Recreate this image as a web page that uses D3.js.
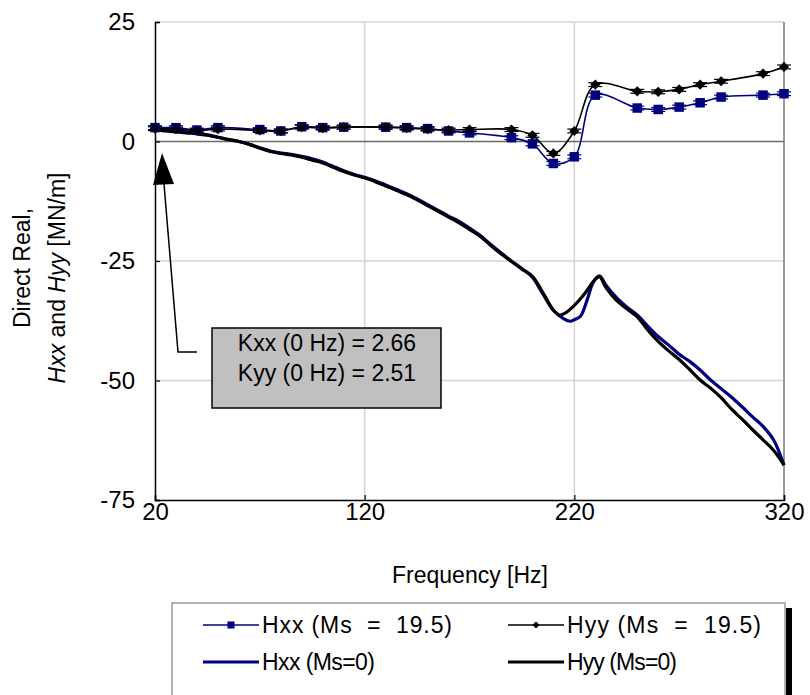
<!DOCTYPE html>
<html>
<head>
<meta charset="utf-8">
<script src="https://cdn.jsdelivr.net/npm/d3@7"></script>
<style>
  html, body { margin: 0; padding: 0; background: #fff; }
  svg { display: block; font-family: "Liberation Sans", Arial, sans-serif; }
</style>
</head>
<body>
<svg id="chart" width="810" height="695"></svg>
<script>
// Measured stiffness with seal mass (Ms = 19.5), sampled frequencies [Hz]
const markerFreq = [20, 30, 40, 50, 70, 80, 90, 100, 110, 130, 140, 150, 160, 170,
                    190, 200, 210, 220, 230, 250, 260, 270, 280, 290, 310, 320];
const hxxMs195 = [2.9, 2.9, 2.4, 2.9, 2.5, 2.2, 3.1, 2.9, 3.0, 3.0, 2.9, 2.7, 2.2, 1.8,
                  0.8, -0.5, -4.6, -3.2, 9.7, 7.0, 6.7, 7.2, 8.1, 9.3, 9.7, 10.0];
const hyyMs195 = [2.7, 2.6, 2.3, 2.6, 2.3, 2.2, 3.0, 2.8, 3.0, 3.0, 2.8, 2.6, 2.4, 2.5,
                  2.5, 1.3, -2.5, 2.2, 11.9, 10.5, 10.4, 10.9, 11.9, 12.6, 14.2, 15.6];
// Uncertainty (+/-) on the measured points
const hxxErr = [0.4, 0.4, 0.4, 0.4, 0.4, 0.4, 0.4, 0.4, 0.4, 0.4, 0.4, 0.4, 0.4, 0.4,
                0.4, 0.4, 0.4, 0.4, 0.4, 0.4, 0.4, 0.4, 0.4, 0.4, 0.4, 0.4];
const hyyErr = [0.4, 0.4, 0.4, 0.4, 0.4, 0.4, 0.4, 0.4, 0.4, 0.4, 0.4, 0.4, 0.4, 0.4,
                0.4, 0.4, 0.4, 0.4, 0.4, 0.4, 0.4, 0.4, 0.4, 0.4, 0.4, 0.4];

// Stiffness without seal mass (Ms = 0)
const hxxMs0Freq = [20, 25, 30, 35, 40, 45, 50, 55, 60, 65, 70, 75, 80, 85, 90, 95, 100, 105,
                    110, 115, 120, 125, 130, 135, 140, 145, 150, 155, 160, 165, 170, 175, 180,
                    185, 190, 195, 200, 205, 210, 215, 218, 220, 223, 226, 229, 232, 235, 240,
                    245, 250, 255, 260, 265, 270, 275, 280, 285, 290, 295, 300, 305, 310, 315, 320];
const hxxMs0 = [2.7, 2.4, 2.2, 2.0, 1.7, 1.4, 0.9, 0.4, 0.0, -0.6, -1.3, -2.0, -2.4, -2.7, -3.1,
                -3.6, -4.3, -5.2, -6.1, -6.9, -7.5, -8.2, -9.1, -10.0, -10.9, -12.0, -13.2,
                -14.4, -15.6, -16.7, -18.1, -19.6, -21.5, -23.3, -25.0, -26.6, -28.4, -31.9,
                -35.3, -37.1, -37.6, -37.3, -36.5, -33.3, -29.5, -28.1, -30.0, -32.6, -34.6,
                -36.3, -38.6, -40.8, -42.6, -44.5, -46.0, -47.8, -49.9, -51.7, -53.5, -55.5,
                -57.6, -59.6, -62.4, -67.7];
const hyyMs0Freq = [20, 25, 30, 35, 40, 45, 50, 55, 60, 65, 70, 75, 80, 85, 90, 95, 100, 105,
                    110, 115, 120, 125, 130, 135, 140, 145, 150, 155, 160, 165, 170, 175, 180,
                    185, 190, 195, 200, 205, 210, 213, 216, 220, 225, 230, 232, 235, 240, 245,
                    250, 255, 260, 265, 270, 275, 280, 285, 290, 295, 300, 305, 310, 315, 320];
const hyyMs0 = [2.6, 2.2, 2.0, 1.8, 1.6, 1.3, 0.9, 0.4, 0.0, -0.6, -1.4, -2.1, -2.5, -2.8, -3.3,
                -3.9, -4.5, -5.4, -6.3, -7.0, -7.6, -8.4, -9.3, -10.2, -11.1, -12.2, -13.4,
                -14.6, -15.8, -17.0, -18.4, -19.8, -21.7, -23.5, -25.1, -26.7, -28.2, -31.6,
                -35.3, -36.3, -35.8, -34.3, -31.8, -28.8, -28.3, -30.5, -33.2, -35.0, -36.7,
                -39.4, -41.8, -43.8, -45.6, -47.7, -49.9, -51.6, -53.6, -56.0, -58.1, -60.3,
                -62.4, -64.6, -67.7];

const xTicks = [20, 120, 220, 320];
const yTicks = [25, 0, -25, -50, -75];

const annotationLines = ["Kxx (0 Hz) = 2.66", "Kyy (0 Hz) = 2.51"];
const legendLabels = ["Hxx (Ms  =  19.5)", "Hyy (Ms  =  19.5)", "Hxx (Ms=0)", "Hyy (Ms=0)"];

const NAVY = "#000080";
const FONT = "'Liberation Sans', Arial, sans-serif";
const svg = d3.select("#chart");

const plot = { left: 155, right: 784, top: 22, bottom: 500 };
const x = d3.scaleLinear().domain([20, 320]).range([plot.left, plot.right]);
const y = d3.scaleLinear().domain([-75, 25]).range([plot.bottom, plot.top]);

// Grid lines
const grid = svg.append("g");
grid.selectAll("line.vg").data(xTicks.slice(1, -1)).join("line")
  .attr("x1", d => x(d)).attr("x2", d => x(d))
  .attr("y1", plot.top).attr("y2", plot.bottom)
  .attr("stroke", "#d4d4d4").attr("stroke-width", 1.5);
grid.selectAll("line.hg").data([-25, -50]).join("line")
  .attr("x1", plot.left).attr("x2", plot.right)
  .attr("y1", d => y(d)).attr("y2", d => y(d))
  .attr("stroke", "#d4d4d4").attr("stroke-width", 1.5);
// Top and right frame
grid.append("line").attr("x1", plot.left).attr("x2", plot.right)
  .attr("y1", plot.top).attr("y2", plot.top).attr("stroke", "#d4d4d4").attr("stroke-width", 1.5);
grid.append("line").attr("x1", plot.right).attr("x2", plot.right)
  .attr("y1", plot.top).attr("y2", plot.bottom).attr("stroke", "#7a7a7a").attr("stroke-width", 1.5);
// Zero line
grid.append("line").attr("x1", plot.left).attr("x2", plot.right)
  .attr("y1", y(0)).attr("y2", y(0)).attr("stroke", "#6a6a6a").attr("stroke-width", 1.5);

// Axes (plain hyphen for negative labels)
const plain = d => String(d);
const xAxis = d3.axisBottom(x).tickValues(xTicks).tickFormat(plain).tickSize(-5).tickPadding(3);
const yAxis = d3.axisLeft(y).tickValues(yTicks).tickFormat(plain).tickSize(-5).tickPadding(20);
const gx = svg.append("g").attr("transform", `translate(0,${plot.bottom})`).call(xAxis);
const gy = svg.append("g").attr("transform", `translate(${plot.left},0)`).call(yAxis);
[gx, gy].forEach(g => {
  g.select(".domain").attr("stroke", "#000").attr("stroke-width", 1.5);
  g.selectAll(".tick line").attr("stroke", "#000").attr("stroke-width", 1.2);
  g.selectAll(".tick text").attr("font-size", 24).attr("fill", "#000").attr("font-family", FONT);
});

// Axis titles
svg.append("text").attr("x", 470).attr("y", 583)
  .attr("text-anchor", "middle").attr("font-size", 23).text("Frequency [Hz]");
const yTitle = svg.append("text").attr("transform", "rotate(-90)")
  .attr("text-anchor", "middle").attr("font-size", 23);
yTitle.append("tspan").attr("x", -268).attr("y", 30).text("Direct Real,");
const t2 = yTitle.append("tspan").attr("x", -278).attr("y", 65);
t2.append("tspan").attr("font-style", "italic").text("Hxx");
t2.append("tspan").text(" and ");
t2.append("tspan").attr("font-style", "italic").text("Hyy");
t2.append("tspan").text(" [MN/m]");

// Curves
const smooth = d3.line().x(d => x(d[0])).y(d => y(d[1])).curve(d3.curveCatmullRom.alpha(0.5));
const zip = (a, b) => a.map((v, i) => [v, b[i]]);

const g = svg.append("g");
g.append("path").datum(zip(hxxMs0Freq, hxxMs0)).attr("d", smooth)
  .attr("fill", "none").attr("stroke", NAVY).attr("stroke-width", 3.2);
g.append("path").datum(zip(hyyMs0Freq, hyyMs0)).attr("d", smooth)
  .attr("fill", "none").attr("stroke", "#000").attr("stroke-width", 3.2);

g.append("path").datum(zip(markerFreq, hxxMs195)).attr("d", smooth)
  .attr("fill", "none").attr("stroke", NAVY).attr("stroke-width", 1.6);
g.append("path").datum(zip(markerFreq, hyyMs195)).attr("d", smooth)
  .attr("fill", "none").attr("stroke", "#000").attr("stroke-width", 1.6);

// Error bars on measured points
function errorBars(vals, errs, color) {
  const eb = g.append("g").attr("stroke", color).attr("stroke-width", 1.2);
  markerFreq.forEach((f, i) => {
    const cx = x(f), y0 = y(vals[i] - errs[i]), y1 = y(vals[i] + errs[i]);
    eb.append("line").attr("x1", cx).attr("x2", cx).attr("y1", y0).attr("y2", y1);
    eb.append("line").attr("x1", cx - 7).attr("x2", cx + 7).attr("y1", y0).attr("y2", y0);
    eb.append("line").attr("x1", cx - 7).attr("x2", cx + 7).attr("y1", y1).attr("y2", y1);
  });
}
errorBars(hxxMs195, hxxErr, NAVY);
errorBars(hyyMs195, hyyErr, "#000");

const square = d3.symbol().type(d3.symbolSquare).size(90);
const diamond = d3.symbol().type(d3.symbolSquare).size(52);
g.selectAll("path.sq").data(zip(markerFreq, hxxMs195)).join("path")
  .attr("class", "sq").attr("d", square)
  .attr("transform", d => `translate(${x(d[0])},${y(d[1])})`).attr("fill", NAVY);
g.selectAll("path.dm").data(zip(markerFreq, hyyMs195)).join("path")
  .attr("class", "dm").attr("d", diamond)
  .attr("transform", d => `translate(${x(d[0])},${y(d[1])}) rotate(45)`).attr("fill", "#000");

// Annotation box with leader arrow
const ann = svg.append("g");
ann.append("polyline").attr("points", "197,352 178,352 164,184")
  .attr("fill", "none").attr("stroke", "#000").attr("stroke-width", 1.5);
ann.append("path").attr("d", "M162,153 L174,184 L153,185 Z").attr("fill", "#000");
ann.append("rect").attr("x", 212).attr("y", 328).attr("width", 229).attr("height", 80)
  .attr("fill", "#c0c0c0").attr("stroke", "#000").attr("stroke-width", 1.5);
ann.selectAll("text").data(annotationLines).join("text")
  .attr("x", 327).attr("y", (d, i) => 351 + i * 30)
  .attr("text-anchor", "middle").attr("font-size", 23).text(d => d);

// Legend
const lg = svg.append("g");
lg.append("rect").attr("x", 786).attr("y", 608).attr("width", 6).attr("height", 90).attr("fill", "#000");
lg.append("rect").attr("x", 172).attr("y", 603).attr("width", 613).attr("height", 95)
  .attr("fill", "#fff").attr("stroke", "#808080").attr("stroke-width", 1.2);
const entries = [
  { lx: 203, ly: 625, color: NAVY, w: 1.6, sym: "sq", len: 190 },
  { lx: 508, ly: 625, color: "#000", w: 1.6, sym: "dm", len: 194 },
  { lx: 203, ly: 662, color: NAVY, w: 3.2, sym: null, len: 113 },
  { lx: 508, ly: 662, color: "#000", w: 3.2, sym: null, len: 110 }
];
entries.forEach((e, i) => {
  lg.append("line").attr("x1", e.lx).attr("x2", e.lx + 56).attr("y1", e.ly).attr("y2", e.ly)
    .attr("stroke", e.color).attr("stroke-width", e.w);
  if (e.sym === "sq") {
    lg.append("path").attr("d", d3.symbol().type(d3.symbolSquare).size(50))
      .attr("transform", `translate(${e.lx + 28},${e.ly})`).attr("fill", e.color);
  } else if (e.sym === "dm") {
    lg.append("path").attr("d", d3.symbol().type(d3.symbolSquare).size(26))
      .attr("transform", `translate(${e.lx + 28},${e.ly}) rotate(45)`).attr("fill", e.color);
  }
  lg.append("text").attr("x", e.lx + 59).attr("y", e.ly + 8)
    .attr("font-size", 23).attr("xml:space", "preserve")
    .attr("textLength", e.len).attr("lengthAdjust", "spacing")
    .text(legendLabels[i]);
});
</script>
</body>
</html>
